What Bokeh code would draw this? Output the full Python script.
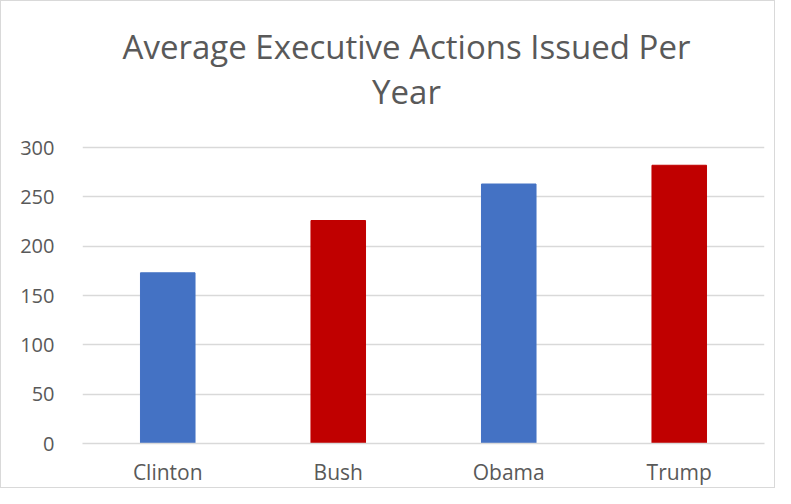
from bokeh.plotting import figure
from bokeh.models import Range1d, Label, ColumnDataSource, FixedTicker
from bokeh.embed import file_html
from bokeh.resources import INLINE

presidents = ["Clinton", "Bush", "Obama", "Trump"]
actions_per_year = [173, 226, 263, 282]
bar_colors = ["#4472C4", "#C00000", "#4472C4", "#C00000"]
y_ticks = [0, 50, 100, 150, 200, 250, 300]
title_lines = ["Average Executive Actions Issued Per", "Year"]

FONT = "Open Sans"
TXT = "#595959"
W, H = 775, 488
LEFT, RIGHT, TOP, BOTTOM = 81, 12, 10, 46
# pixel rows (from top) where the 300 gridline and the axis sit
Y300_PX, Y0_PX = 146, 442
frame_h = H - TOP - BOTTOM
y_end = y_ticks[-1] * frame_h / (Y0_PX - Y300_PX)

src = ColumnDataSource(dict(x=presidents, top=actions_per_year, color=bar_colors))

p = figure(x_range=presidents, y_range=Range1d(0, y_end), width=W, height=H,
           output_backend="svg", toolbar_location=None,
           min_border_left=LEFT, min_border_right=RIGHT, min_border_top=TOP,
           min_border_bottom=BOTTOM)
p.vbar(x="x", top="top", width=0.32, color="color", source=src)

p.outline_line_color = None
p.xgrid.grid_line_color = None
p.ygrid.grid_line_color = "#D9D9D9"
p.ygrid.grid_line_width = 1.3

p.yaxis.ticker = FixedTicker(ticks=y_ticks)
p.yaxis.axis_line_color = None
p.yaxis.major_tick_line_color = None
p.yaxis.minor_tick_line_color = None
p.yaxis.major_label_text_font = FONT
p.yaxis.major_label_text_font_size = "20px"
p.yaxis.major_label_text_color = TXT
p.yaxis.major_label_standoff = 22

p.xaxis.axis_line_color = "#D9D9D9"
p.xaxis.axis_line_width = 1.3
p.xaxis.major_tick_line_color = None
p.xaxis.minor_tick_line_color = None
p.xaxis.major_label_text_font = FONT
p.xaxis.major_label_text_font_size = "21px"
p.xaxis.major_label_text_color = TXT
p.xaxis.major_label_standoff = 8

for line, ytop in zip(title_lines, [45, 90]):
    p.add_layout(Label(x=405 - LEFT, y=(H - BOTTOM) - ytop, x_units="screen", y_units="screen",
                       text=line, text_align="center", text_baseline="middle",
                       text_font=FONT, text_font_size="33px", text_color=TXT))

p.styles = {"border": "1px solid #D9D9D9"}

open("out.html", "w").write(file_html(p, INLINE))
